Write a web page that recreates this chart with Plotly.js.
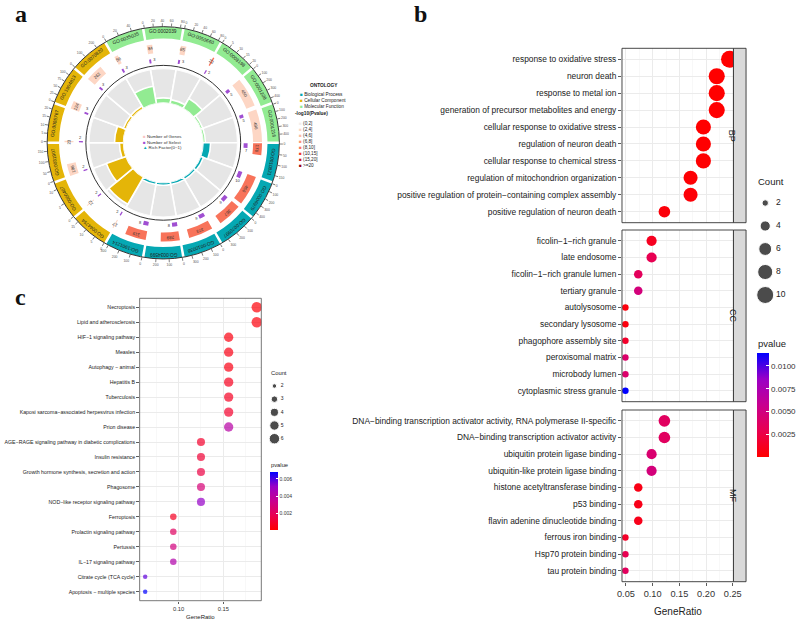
<!DOCTYPE html>
<html><head><meta charset="utf-8">
<script src="https://cdn.plot.ly/plotly-3.0.1.min.js"></script>
<style>html,body{margin:0;padding:0;background:#fff}#chart{width:800px;height:622px}</style>
</head><body><div id="chart"></div>
<script>
// ================= Panel a : GO circle =================
const goIds = ['GO:0002039','GO:0050660','GO:0008198','GO:0001228','GO:0001216','GO:0010821','GO:0006979','GO:0070997','GO:0010038','GO:0034599','GO:1901214','GO:0044754','GO:0000407','GO:0031907','GO:0005767','GO:1904813','GO:0070820','GO:0035035'];
const goOntology = ['MF','MF','MF','MF','MF','BP','BP','BP','BP','BP','BP','CC','CC','CC','CC','CC','CC','MF'];
const goGenes = [84,85,22,450,496,178,456,367,373,289,319,17,12,186,23,124,262,56];
const goSelect = [3,3,2,5,5,7,10,9,9,8,8,2,2,2,2,3,3,3];
const goPvalClass = [1,1,4,1,1,4,4,4,4,4,4,1,1,1,1,1,1,1];
const goRichFactor = [0.15,0.12,0.33,0.07,0.07,0.22,0.09,0.08,0.08,0.08,0.08,0.9,0.6,0.12,0.26,0.08,0.08,0.51];
const ontologyCodes = ['BP','CC','MF'];
const ontologyNames = ['Biological Process','Cellular Component','Molecular Function'];
const ontologyColors = ['#05A8B3','#E4B508','#92EB92'];
const pvalClassLabels = ['(0,2]','(2,4]','(4,6]','(6,8]','(8,10]','(10,15]','(15,20]','>=20'];
const pvalClassColors = ['#F3EEEC','#FDD6C4','#FCBBA1','#FC9272','#F8735A','#EF3B2C','#CB181D','#99000D'];
const innerLegendLabels = ['Number of Genes','Number of Select','Rich Factor(0~1)'];
const innerLegendColors = ['#F8C4C4','#A04FD2','#05A8B3'];
const innerLegendSymbols = ['■','■','▲'];

// ================= Panel b : GO dot plot =================
const bpTerms = ['response to oxidative stress','neuron death','response to metal ion','generation of precursor metabolites and energy','cellular response to oxidative stress','regulation of neuron death','cellular response to chemical stress','regulation of mitochondrion organization','positive regulation of protein−containing complex assembly','positive regulation of neuron death'];
const bpRatio = [0.244,0.220,0.220,0.220,0.195,0.195,0.195,0.171,0.171,0.122];
const bpCount = [10,9,9,9,8,8,8,7,7,5];
const bpPvalue = [0.00002,0.00005,0.00006,0.00008,0.00004,0.0001,0.00012,0.0002,0.0003,0.0004];

const ccTerms = ['ficolin−1−rich granule','late endosome','ficolin−1−rich granule lumen','tertiary granule','autolysosome','secondary lysosome','phagophore assembly site','peroxisomal matrix','microbody lumen','cytoplasmic stress granule'];
const ccRatio = [0.098,0.098,0.073,0.073,0.049,0.049,0.049,0.049,0.049,0.049];
const ccCount = [4,4,3,3,2,2,2,2,2,2];
const ccPvalue = [0.0012,0.0030,0.0034,0.0048,0.0005,0.0006,0.0016,0.0041,0.0041,0.0114];

const mfTerms = ['DNA−binding transcription activator activity, RNA polymerase II-specific','DNA−binding transcription activator activity','ubiquitin protein ligase binding','ubiquitin-like protein ligase binding','histone acetyltransferase binding','p53 binding','flavin adenine dinucleotide binding','ferrous iron binding','Hsp70 protein binding','tau protein binding'];
const mfRatio = [0.122,0.122,0.098,0.098,0.073,0.073,0.073,0.049,0.049,0.049];
const mfCount = [5,5,4,4,3,3,3,2,2,2];
const mfPvalue = [0.0036,0.0036,0.0043,0.0048,0.0008,0.0009,0.0010,0.0015,0.0030,0.0035];

const bCountLegend = [2,4,6,8,10];
const bPvalueTicks = [0.0025,0.0050,0.0075,0.0100];
const bXTicks = [0.05,0.10,0.15,0.20,0.25];

// ================= Panel c : KEGG dot plot =================
const keggTerms = ['Necroptosis','Lipid and atherosclerosis','HIF−1 signaling pathway','Measles','Autophagy − animal','Hepatitis B','Tuberculosis','Kaposi sarcoma−associated herpesvirus infection','Prion disease','AGE−RAGE signaling pathway in diabetic complications','Insulin resistance','Growth hormone synthesis, secretion and action','Phagosome','NOD−like receptor signaling pathway','Ferroptosis','Prolactin signaling pathway','Pertussis','IL−17 signaling pathway','Citrate cycle (TCA cycle)','Apoptosis − multiple species'];
const keggRatio = [0.1875,0.1875,0.156,0.156,0.156,0.156,0.156,0.156,0.156,0.125,0.125,0.125,0.125,0.125,0.094,0.094,0.094,0.094,0.0625,0.0625];
const keggCount = [6,6,5,5,5,5,5,5,5,4,4,4,4,4,3,3,3,3,2,2];
const keggPvalue = [0.0002,0.0003,0.0004,0.0005,0.0005,0.0007,0.0008,0.0010,0.0041,0.0010,0.0012,0.0015,0.0028,0.0052,0.0008,0.0022,0.0030,0.0043,0.0058,0.00685];
const cCountLegend = [2,3,4,5,6];
const cPvalueTicks = [0.002,0.004,0.006];
const cXTicks = [0.10,0.15];

// ================= styling =================
const TXT = '"Liberation Sans",Arial,sans-serif';
const SANS = '"Liberation Sans",Arial,sans-serif';
const SERIF = '"Liberation Serif","Times New Roman",serif';
const W = 800, H = 622;
const px = v => v / W, py = v => 1 - v / H;
const pvalScale = [[0,'#FF0000'],[0.25,'#E9004F'],[0.5,'#C8008F'],[0.75,'#9A00C6'],[1,'#0000FF']];
const sizeB = c => Math.sqrt(42 + (c - 2) * 31);
const sizeC = c => Math.sqrt(20 + (c - 2) * 22.5);
const ontColor = o => ontologyColors[ontologyCodes.indexOf(o)];

const traces = [];
const annotations = [];

// ---- panel a geometry (style constants) ----
const CX = 164.5, CY = 142.8, R_OUT = 117, R_HOLE = 78, R_GREY = 75, R_WHITE = 40;
const SECTOR = 360 / goIds.length;
const GENE_SCALE_MAX = 500;
const SELECT_DEG = 0.45;
const mod360 = a => ((a % 360) + 360) % 360;
const centers = goIds.map((_, i) => i * SECTOR);
const starts = centers.map(c => c - SECTOR / 2);
const geneWidths = goGenes.map(g => g / GENE_SCALE_MAX * (SECTOR - 0.6));
const selWidths = goSelect.map(s => s * SELECT_DEG);
// text placed along the ring, rotated like the reference (radius in px of the outer polar)
const ringText = (text, theta, r, size, color) => {
  const a = theta * Math.PI / 180;
  const ang = mod360(theta);
  annotations.push({text, xref:'paper', yref:'paper', x:px(CX + r * Math.sin(a)), y:py(CY - r * Math.cos(a)),
    showarrow:false, xanchor:'center', yanchor:'middle', textangle: ang > 180 ? ang - 360 : ang,
    font:{family:SANS, size, color}});
};

// inner ring (rich factor) on polar2
traces.push({type:'barpolar', subplot:'polar2', theta:centers, r:goIds.map(() => 1), width:SECTOR,
  marker:{color:'#E6E6E6', line:{color:'#FFFFFF', width:1.6}}, showlegend:false, hoverinfo:'skip'});
traces.push({type:'barpolar', subplot:'polar2', theta:centers, r:goRichFactor, width:SECTOR,
  marker:{color:goOntology.map(ontColor), line:{color:'#FFFFFF', width:1.6}}, showlegend:false, hoverinfo:'skip'});

// outer GO ring
traces.push({type:'barpolar', subplot:'polar', theta:centers, r:goIds.map(() => 12), base:105, width:SECTOR - 1.3,
  marker:{color:goOntology.map(ontColor), line:{width:0}}, showlegend:false, hoverinfo:'skip'});
goIds.forEach((g, i) => ringText(g, centers[i], 111, 4.8, '#222'));

// number of genes ring
traces.push({type:'barpolar', subplot:'polar', theta:centers, r:goIds.map(() => 9), base:90.5,
  offset:-SECTOR / 2 + 0.3, width:geneWidths,
  marker:{color:goPvalClass.map(k => pvalClassColors[k]), line:{width:0}}, showlegend:false, hoverinfo:'skip'});
goGenes.forEach((g, i) => ringText(String(g), starts[i] + 0.3 + geneWidths[i] / 2, 95, 4.4, '#333'));

// number of select ring
traces.push({type:'barpolar', subplot:'polar', theta:centers, r:goIds.map(() => 4), base:81,
  offset:-SECTOR / 2 + 0.3, width:selWidths,
  marker:{color:'#A04FD2', line:{width:0}}, showlegend:false, hoverinfo:'skip'});
traces.push({type:'scatterpolar', subplot:'polar', mode:'text',
  theta:starts.map((s, i) => s + 0.3 + selWidths[i] + 2.2), r:goIds.map(() => 84), text:goSelect.map(String),
  textfont:{family:SANS, size:4, color:'#333'}, showlegend:false, hoverinfo:'skip', cliponaxis:false});

// angular ticks per sector scale
const niceStep = n => [1,2,5,10,20,25,50,100,200].find(s => n / s <= 5);
const tickVals = [], tickText = [];
goGenes.forEach((g, i) => {
  const st = niceStep(g);
  for (let v = 0; v <= g; v += st) {
    tickVals.push(mod360(starts[i] + 0.6 + v / g * (SECTOR - 1.2)));
    tickText.push(String(v));
  }
});

// ---- panel b ----
[[bpTerms,bpRatio,bpCount,bpPvalue,'y2'],[ccTerms,ccRatio,ccCount,ccPvalue,'y3'],[mfTerms,mfRatio,mfCount,mfPvalue,'y4']]
.forEach(([t, r, c, p, ya]) => traces.push({type:'scatter', mode:'markers', x:r, y:t, xaxis:'x2', yaxis:ya,
  marker:{size:c.map(sizeB), color:p, coloraxis:'coloraxis', line:{width:0}, opacity:1},
  showlegend:false, hoverinfo:'skip'}));
traces.push({type:'scatter', mode:'markers', x:bCountLegend.map(() => 0), y:bCountLegend, xaxis:'x5', yaxis:'y5',
  marker:{size:bCountLegend.map(sizeB), color:'#000'}, showlegend:false, hoverinfo:'skip', cliponaxis:false});
traces.push({type:'scatter', mode:'text', x:bCountLegend.map(() => 1.8), y:bCountLegend, xaxis:'x5', yaxis:'y5',
  text:bCountLegend.map(String), textposition:'middle right', textfont:{family:TXT, size:8.5, color:'#222'},
  showlegend:false, hoverinfo:'skip', cliponaxis:false});

// ---- panel c ----
traces.push({type:'scatter', mode:'markers', x:keggRatio, y:keggTerms, xaxis:'x', yaxis:'y',
  marker:{size:keggCount.map(sizeC), color:keggPvalue, coloraxis:'coloraxis2', line:{width:0}},
  showlegend:false, hoverinfo:'skip'});
traces.push({type:'scatter', mode:'markers', x:cCountLegend.map(() => 0), y:cCountLegend, xaxis:'x6', yaxis:'y6',
  marker:{size:cCountLegend.map(sizeC), color:'#000'}, showlegend:false, hoverinfo:'skip', cliponaxis:false});
traces.push({type:'scatter', mode:'text', x:cCountLegend.map(() => 1.6), y:cCountLegend, xaxis:'x6', yaxis:'y6',
  text:cCountLegend.map(String), textposition:'middle right', textfont:{family:TXT, size:5, color:'#222'},
  showlegend:false, hoverinfo:'skip', cliponaxis:false});

// ---- axes ----
const gridCol = '#EBEBEB';
const xBase = {showgrid:true, gridcolor:gridCol, gridwidth:1, zeroline:false, showline:false, ticks:'outside',
  tickcolor:'#333', tickwidth:0.8, automargin:false, fixedrange:true,
  minor:{dtick:0.025, tick0:0, showgrid:true, gridcolor:'#F3F3F3', gridwidth:0.6, ticks:''}};
const yBase = {type:'category', showgrid:true, gridcolor:gridCol, gridwidth:1, zeroline:false, showline:false,
  ticks:'outside', tickcolor:'#333', tickwidth:0.8, automargin:false, fixedrange:true};

const dB = {x:[px(626.7), px(739)], bp:[py(222.7), py(48.3)], cc:[py(401.7), py(230)], mf:[py(581.7), py(410)]};

const layout = {
  width:W, height:H, margin:{l:0, r:0, t:0, b:0}, paper_bgcolor:'#fff', plot_bgcolor:'rgba(0,0,0,0)',
  showlegend:false, font:{family:SANS, color:'#222'},
  // panel c
  xaxis:Object.assign({}, xBase, {domain:[px(140.7), px(263.3)], anchor:'y', range:[0.0563, 0.1926],
    tickvals:cXTicks, tickformat:'.2f', ticklen:2.5, tickfont:{family:TXT, size:5.8, color:'#333'}}),
  yaxis:Object.assign({}, yBase, {domain:[py(600.7), py(298.3)], anchor:'x', categoryorder:'array',
    categoryarray:keggTerms, range:[keggTerms.length - 0.4, -0.6], ticklen:2.5,
    tickfont:{family:TXT, size:5.25, color:'#1a1a1a'}}),
  // panel b
  xaxis2:Object.assign({}, xBase, {domain:dB.x, anchor:'y4', range:[0.0426, 0.2513], tickvals:bXTicks,
    tickformat:'.2f', ticklen:3, tickfont:{family:TXT, size:9.2, color:'#333'}}),
  yaxis2:Object.assign({}, yBase, {domain:dB.bp, anchor:'x2', categoryorder:'array', categoryarray:bpTerms,
    range:[bpTerms.length - 0.35, -0.65], ticklen:3, tickfont:{family:TXT, size:8.4, color:'#1a1a1a'}}),
  yaxis3:Object.assign({}, yBase, {domain:dB.cc, anchor:'x2', categoryorder:'array', categoryarray:ccTerms,
    range:[ccTerms.length - 0.35, -0.65], ticklen:3, tickfont:{family:TXT, size:8.4, color:'#1a1a1a'}}),
  yaxis4:Object.assign({}, yBase, {domain:dB.mf, anchor:'x2', categoryorder:'array', categoryarray:mfTerms,
    range:[mfTerms.length - 0.35, -0.65], ticklen:3, tickfont:{family:TXT, size:8.4, color:'#1a1a1a'}}),
  // legend axes
  xaxis5:{domain:[px(765), px(795)], anchor:'y5', range:[-1, 4], visible:false, fixedrange:true},
  yaxis5:{domain:[py(306.5), py(191.5)], anchor:'x5', range:[11, 1], visible:false, fixedrange:true},
  xaxis6:{domain:[px(272.5), px(292.5)], anchor:'y6', range:[-1, 4], visible:false, fixedrange:true},
  yaxis6:{domain:[py(445.3), py(379.4)], anchor:'x6', range:[6.5, 1.5], visible:false, fixedrange:true},
  coloraxis:{cmin:0.00005, cmax:0.0114, colorscale:pvalScale, colorbar:{x:px(763), xanchor:'left', xpad:0,
    y:py(353), yanchor:'top', ypad:0, len:104, lenmode:'pixels', thickness:12, outlinewidth:0,
    tickvals:bPvalueTicks, tickformat:'.4f', ticks:'inside', ticklen:3, tickcolor:'#fff',
    tickfont:{family:TXT, size:8, color:'#333'}, title:{text:''}}},
  coloraxis2:{cmin:0.00006, cmax:0.00685, colorscale:pvalScale, colorbar:{x:px(271.7), xanchor:'left', xpad:0,
    y:py(471.7), yanchor:'top', ypad:0, len:58, lenmode:'pixels', thickness:8, outlinewidth:0,
    tickvals:cPvalueTicks, tickformat:'.3f', ticks:'inside', ticklen:2, tickcolor:'#fff',
    tickfont:{family:TXT, size:5, color:'#333'}, title:{text:''}}},
  // panel a polar
  polar:{domain:{x:[px(CX - R_OUT), px(CX + R_OUT)], y:[py(CY + R_OUT), py(CY - R_OUT)]},
    hole:R_HOLE / R_OUT, bgcolor:'rgba(0,0,0,0)', barmode:'overlay',
    radialaxis:{range:[R_HOLE, R_OUT], visible:false},
    angularaxis:{direction:'clockwise', rotation:90, tickmode:'array', tickvals:tickVals, ticktext:tickText,
      ticks:'outside', ticklen:3, tickcolor:'#333', tickwidth:0.6, showline:true, linecolor:'#333', linewidth:1,
      showgrid:false, tickfont:{family:SANS, size:3.4, color:'#555'}}},
  polar2:{domain:{x:[px(CX - R_GREY), px(CX + R_GREY)], y:[py(CY + R_GREY), py(CY - R_GREY)]},
    hole:R_WHITE / R_GREY, bgcolor:'rgba(0,0,0,0)', barmode:'overlay',
    radialaxis:{range:[0, 1], showline:false, showticklabels:false, ticks:'', showgrid:true, gridcolor:'#FFFFFF',
      gridwidth:0.6, tickvals:[0.14,0.28,0.42,0.56,0.7,0.84], layer:'above traces'},
    angularaxis:{direction:'clockwise', rotation:90, showline:false, showgrid:false, ticks:'', showticklabels:false}},
  shapes:[], annotations:annotations
};

// facet borders and strips for panel b
[['BP','y2'],['CC','y3'],['MF','y4']].forEach(([lab, ya]) => {
  layout.shapes.push({type:'rect', xref:'x2 domain', yref:ya + ' domain', x0:0, x1:1, y0:0, y1:1,
    line:{color:'#333', width:0.9}, fillcolor:'rgba(0,0,0,0)'});
  layout.shapes.push({type:'rect', xref:'paper', yref:ya + ' domain', x0:px(739), x1:px(751.7), y0:0, y1:1,
    line:{color:'#333', width:0.9}, fillcolor:'#D9D9D9'});
  annotations.push({text:lab, xref:'paper', yref:ya + ' domain', x:px(745.4), y:0.5, showarrow:false,
    textangle:90, font:{family:TXT, size:9, color:'#1a1a1a'}});
});
layout.shapes.push({type:'rect', xref:'x domain', yref:'y domain', x0:0, x1:1, y0:0, y1:1,
  line:{color:'#555', width:0.8}, fillcolor:'rgba(0,0,0,0)'});

const ann = (text, x, y, size, opts) => annotations.push(Object.assign({text, xref:'paper', yref:'paper',
  x:px(x), y:py(y), showarrow:false, xanchor:'left', yanchor:'middle', font:{family:TXT, size, color:'#222'}}, opts || {}));

// titles
ann('GeneRatio', 682.9, 611, 10, {xanchor:'center'});
ann('GeneRatio', 202, 617, 6, {xanchor:'center'});
ann('Count', 762, 181, 9.5);
ann('pvalue', 762, 343, 9.5);
ann('Count', 271.5, 372.5, 5.8);
ann('pvalue', 271.5, 465, 5.8);
// panel letters
ann('<b>a</b>', 21, 14, 24, {xanchor:'center', font:{family:SERIF, size:24, color:'#111'}});
ann('<b>b</b>', 423.5, 14, 24, {xanchor:'center', font:{family:SERIF, size:24, color:'#111'}});
ann('<b>c</b>', 21, 297, 24, {xanchor:'center', font:{family:SERIF, size:24, color:'#111'}});

// panel a legends
ann('<b>ONTOLOGY</b>', 310, 85.5, 4.8, {font:{family:SANS, size:4.8, color:'#222'}});
ann(ontologyNames.map((n, i) => `<span style="color:${ontologyColors[i]}">■</span> ${n}`).join('<br>'),
  300, 89.6, 4.7, {yanchor:'top', align:'left', font:{family:SANS, size:4.7, color:'#222'}});
ann('<b>-log10(Pvalue)</b>', 295, 114, 4.8, {font:{family:SANS, size:4.8, color:'#222'}});
ann(pvalClassLabels.map((n, i) => `<span style="color:${pvalClassColors[i]}">■</span> ${n}`).join('<br>'),
  299.5, 118.7, 4.65, {yanchor:'top', align:'left', font:{family:SANS, size:4.65, color:'#222'}});
ann(innerLegendLabels.map((n, i) => `<span style="color:${innerLegendColors[i]}">${innerLegendSymbols[i]}</span> ${n}`).join('<br>'),
  142.5, 142.3, 4.4, {align:'left', font:{family:SANS, size:4.4, color:'#333'}});

Plotly.newPlot('chart', traces, layout, {staticPlot:true, displayModeBar:false});
</script></body></html>
